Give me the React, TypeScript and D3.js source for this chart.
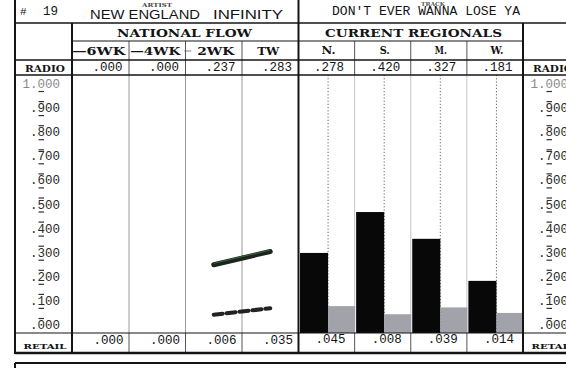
import React from "react";
import * as d3 from "d3";

const W = 566;
const H = 368;

// ---- data ----
const chartRank = "19";
const artistName = "NEW ENGLAND";
const labelName = "INFINITY";
const trackTitle = "DON'T EVER WANNA LOSE YA";

const nationalWeeks = ["—6WK", "—4WK", "2WK", "TW"];
const nationalRadio = [0.0, 0.0, 0.237, 0.283];
const nationalRetail = [0.0, 0.0, 0.006, 0.035];

const regions = ["N.", "S.", "M.", "W."];
const regionRadio = [0.278, 0.42, 0.327, 0.181];
const regionRetail = [0.045, 0.008, 0.039, 0.014];

const yTicks = [1.0, 0.9, 0.8, 0.7, 0.6, 0.5, 0.4, 0.3, 0.2, 0.1, 0.0];

// ---- layout ----
const LEFT = 15;
const LABEL_R = 72;
const DIV = 298.5;
const RDIV = 523;
const SHIFT = 508;
const Y_TITLE = 23;
const Y_GROUP = 41;
const Y_HEAD = 60;
const Y_RADIO = 75;
const Y_BASE = 333;
const Y_BOTTOM = 353;

const MONO = "'Liberation Mono', 'DejaVu Sans Mono', monospace";
const SERIF = "'DejaVu Serif', serif";
const SANS = "'Liberation Sans', Arial, sans-serif";
const INK = "#141414";
const GRAYBAR = "#a2a2aa";

const f3 = d3.format(".3f");
const fmt = (v: number) => (v >= 1 ? f3(v) : f3(v).replace(/^0/, ""));

export default function App() {
  const xNat = d3.scaleBand<string>().domain(nationalWeeks).range([72.5, DIV]);
  const xReg = d3.scaleBand<string>().domain(regions).range([DIV, RDIV]);
  const yBar = d3.scaleLinear().domain([0, 1]).range([Y_BASE, 45]);
  const yRetail = d3.scaleLinear().domain([0, 0.05]).range([316, 305]);
  const yTick = d3.scaleLinear().domain([0, 1]).range([329, 88]);

  const nbw = xNat.bandwidth();
  const rbw = xReg.bandwidth();

  const natRadioPts = nationalWeeks
    .map((w, i) => ({ w, v: nationalRadio[i] }))
    .filter((d) => d.v > 0);
  const natRetailPts = nationalWeeks
    .map((w, i) => ({ w, v: nationalRetail[i] }))
    .filter((d) => d.v > 0);

  const radioLine = d3
    .line<{ w: string; v: number }>()
    .x((d) => (xNat(d.w) as number) + nbw / 2)
    .y((d) => yBar(d.v));
  const retailLine = d3
    .line<{ w: string; v: number }>()
    .x((d) => (xNat(d.w) as number) + nbw / 2)
    .y((d) => yRetail(d.v));

  const tickLabels = (rightX: number, key: string) =>
    yTicks.map((t, i) => {
      const label = fmt(t);
      const cw = 7.5;
      const digitX = rightX - 3 * cw;
      const y = yTick(t);
      return (
        <g key={key + i}>
          <text
            x={rightX}
            y={y}
            textAnchor="end"
            fontFamily={MONO}
            fontSize={12.5}
            fill={t === 1 ? "#8a8a8a" : "#2a2a2a"}
          >
            {label}
          </text>
          {t < 1 && (
            <line x1={digitX + 1} x2={digitX + 6.5} y1={y - 10.5} y2={y - 10.5} stroke="#333" strokeWidth={1.2} />
          )}
          {t > 0 && (
            <line x1={digitX + 1} x2={digitX + 6.5} y1={y + 3.5} y2={y + 3.5} stroke="#333" strokeWidth={1.2} />
          )}
        </g>
      );
    });

  const rowLabel = (x: number, key: string) => (
    <g key={key}>
      <text x={x + 10} y={72} fontFamily={SERIF} fontWeight="bold" fontSize={8.5} textLength={40} lengthAdjust="spacingAndGlyphs" fill={INK}>
        RADIO
      </text>
      <text x={x + 8.5} y={349} fontFamily={SERIF} fontWeight="bold" fontSize={8} textLength={43} lengthAdjust="spacingAndGlyphs" fill={INK}>
        RETAIL
      </text>
    </g>
  );

  const headWidths: Record<string, number> = { "—6WK": 53, "—4WK": 50, "2WK": 37, TW: 22 };
  const regWidths: Record<string, number> = { "N.": 14, "S.": 10, "M.": 12, "W.": 13 };

  return (
    <svg
      width={W}
      height={H}
      viewBox={`0 0 ${W} ${H}`}
      style={{ position: "absolute", left: 0, top: 0, display: "block", background: "#fff" }}
    >
      <rect x={0} y={0} width={W} height={H} fill="#fff" />

      {/* title row */}
      <text x={20} y={15} fontFamily={MONO} fontSize={11} fill={INK}>#</text>
      <text x={43} y={15} fontFamily={MONO} fontSize={12.5} fill={INK}>{chartRank}</text>
      <text x={142} y={7} fontFamily={SERIF} fontWeight="bold" fontSize={5.5} textLength={30} lengthAdjust="spacingAndGlyphs" fill="#444">ARTIST</text>
      <text x={90} y={18.5} fontFamily={SANS} fontSize={12.5} textLength={110} lengthAdjust="spacingAndGlyphs" fill={INK}>{artistName}</text>
      <text x={213} y={18.5} fontFamily={SANS} fontSize={12.5} textLength={70} lengthAdjust="spacingAndGlyphs" fill={INK}>{labelName}</text>
      <text x={332} y={14.5} fontFamily={MONO} fontSize={12.5} textLength={188} lengthAdjust="spacingAndGlyphs" fill={INK}>{trackTitle}</text>
      <text x={421} y={6} fontFamily={SERIF} fontWeight="bold" fontSize={5.5} textLength={24} lengthAdjust="spacingAndGlyphs" fill="#555">TRACK</text>

      {/* group headers */}
      <text x={117} y={37} fontFamily={SERIF} fontWeight="bold" fontSize={10.5} textLength={135} lengthAdjust="spacingAndGlyphs" fill={INK}>NATIONAL FLOW</text>
      <text x={325} y={37} fontFamily={SERIF} fontWeight="bold" fontSize={10.5} textLength={177} lengthAdjust="spacingAndGlyphs" fill={INK}>CURRENT REGIONALS</text>

      {/* column headers */}
      {nationalWeeks.map((w) => {
        const cx = (xNat(w) as number) + nbw / 2 - 2;
        const tw = headWidths[w];
        return (
          <g key={"h" + w}>
            {w === "2WK" && (
              <line x1={cx - tw / 2 - 9} x2={cx - tw / 2 - 2} y1={51} y2={51} stroke="#aaa" strokeWidth={1.5} />
            )}
            <text x={cx + (w === "2WK" ? 4 : 0)} y={55} textAnchor="middle" fontFamily={SERIF} fontWeight="bold" fontSize={10.5} textLength={tw} lengthAdjust="spacingAndGlyphs" fill={INK}>
              {w}
            </text>
          </g>
        );
      })}
      {regions.map((r) => (
        <text key={"rh" + r} x={(xReg(r) as number) + rbw / 2 + 2} y={54} textAnchor="middle" fontFamily={SERIF} fontWeight="bold" fontSize={10.5} textLength={regWidths[r]} lengthAdjust="spacingAndGlyphs" fill={INK}>
          {r}
        </text>
      ))}

      {/* radio row values */}
      {nationalWeeks.map((w, i) => (
        <text key={"nr" + w} x={(xNat(w) as number) + nbw - 6.5} y={71} textAnchor="end" fontFamily={MONO} fontSize={12.5} fill={INK}>
          {fmt(nationalRadio[i])}
        </text>
      ))}
      {regions.map((r, i) => (
        <text key={"rr" + r} x={(xReg(r) as number) + rbw - 10.5} y={71} textAnchor="end" fontFamily={MONO} fontSize={12.5} fill={INK}>
          {fmt(regionRadio[i])}
        </text>
      ))}

      {/* retail row values */}
      {nationalWeeks.map((w, i) => (
        <text key={"nt" + w} x={(xNat(w) as number) + nbw - 5.5} y={344} textAnchor="end" fontFamily={MONO} fontSize={12.5} fill={INK}>
          {fmt(nationalRetail[i])}
        </text>
      ))}
      {regions.map((r, i) => (
        <text key={"rt" + r} x={(xReg(r) as number) + rbw - 9} y={343} textAnchor="end" fontFamily={MONO} fontSize={12.5} fill={INK}>
          {fmt(regionRetail[i])}
        </text>
      ))}

      {/* row labels, left panel and next panel */}
      {rowLabel(LEFT, "rl0")}
      {rowLabel(LEFT + SHIFT, "rl1")}

      {/* y tick labels */}
      {tickLabels(60, "tl")}
      {tickLabels(60 + SHIFT, "tr")}

      {/* column dividers in chart area */}
      {nationalWeeks.slice(1).map((w) => {
        const x = xNat(w) as number;
        return (
          <g key={"nd" + w}>
            <line x1={x} x2={x} y1={Y_GROUP} y2={Y_RADIO} stroke="#555" strokeWidth={1} />
            <line x1={x} x2={x} y1={Y_RADIO} y2={Y_BASE} stroke="#9a9a9a" strokeWidth={1} />
            <line x1={x} x2={x} y1={Y_BASE} y2={Y_BOTTOM} stroke="#555" strokeWidth={1} />
          </g>
        );
      })}
      {regions.slice(1).map((r) => {
        const x = xReg(r) as number;
        return (
          <g key={"rd" + r}>
            <line x1={x} x2={x} y1={Y_GROUP} y2={Y_RADIO} stroke="#555" strokeWidth={1} />
            <line x1={x} x2={x} y1={Y_RADIO} y2={Y_BASE} stroke="#c4c4c4" strokeWidth={1} />
            <line x1={x} x2={x} y1={Y_BASE} y2={Y_BOTTOM} stroke="#555" strokeWidth={1} />
          </g>
        );
      })}

      {/* dotted guides in regionals */}
      {regions.map((r) => {
        const x = (xReg(r) as number) + rbw / 2 + 1.5;
        return <line key={"dg" + r} x1={x} x2={x} y1={Y_RADIO} y2={Y_BASE} stroke="#666" strokeWidth={1} strokeDasharray="1.2 2" />;
      })}

      {/* regional bars */}
      {regions.map((r, i) => {
        const x0 = xReg(r) as number;
        const yr = yBar(regionRadio[i]);
        const yt = yRetail(regionRetail[i]);
        return (
          <g key={"b" + r}>
            <rect x={x0 + 1.5} y={yr} width={rbw / 2} height={Y_BASE - yr} fill="#080808" />
            <rect x={x0 + rbw / 2 + 1.5} y={yt} width={rbw / 2 - 1} height={Y_BASE - yt} fill={GRAYBAR} />
          </g>
        );
      })}

      {/* national flow lines */}
      <path d={radioLine(natRadioPts) || ""} fill="none" stroke="#1c241c" strokeWidth={5} strokeLinecap="round" />
      <path d={radioLine(natRadioPts) || ""} fill="none" stroke="#3f8f55" strokeWidth={1.2} strokeOpacity={0.6} transform="translate(0,-1.5)" />
      <path d={retailLine(natRetailPts) || ""} fill="none" stroke="#222" strokeWidth={4} strokeDasharray="9 4" strokeLinecap="round" />

      {/* frame */}
      <line x1={LEFT} x2={LEFT} y1={0} y2={Y_BOTTOM + 1} stroke={INK} strokeWidth={2} />
      <line x1={LABEL_R} x2={LABEL_R} y1={Y_TITLE} y2={Y_BOTTOM + 1} stroke={INK} strokeWidth={2} />
      <line x1={DIV} x2={DIV} y1={0} y2={Y_BOTTOM + 1} stroke={INK} strokeWidth={2} />
      <line x1={RDIV} x2={RDIV} y1={Y_TITLE} y2={Y_BOTTOM + 1} stroke={INK} strokeWidth={2} />
      <line x1={LEFT} x2={W} y1={Y_TITLE} y2={Y_TITLE} stroke={INK} strokeWidth={1.3} />
      <line x1={LABEL_R} x2={RDIV} y1={Y_GROUP} y2={Y_GROUP} stroke={INK} strokeWidth={1} />
      <line x1={LEFT} x2={W} y1={Y_HEAD} y2={Y_HEAD} stroke={INK} strokeWidth={1.3} />
      <line x1={LEFT} x2={W} y1={Y_RADIO} y2={Y_RADIO} stroke={INK} strokeWidth={1.3} />
      <line x1={LEFT} x2={W} y1={Y_BASE} y2={Y_BASE} stroke={INK} strokeWidth={1.2} />
      <line x1={LEFT} x2={W} y1={Y_BOTTOM} y2={Y_BOTTOM} stroke={INK} strokeWidth={2.5} />

      {/* next box beginning */}
      <line x1={LEFT} x2={W} y1={363} y2={363} stroke={INK} strokeWidth={2} />
      <line x1={LEFT} x2={LEFT} y1={363} y2={H} stroke={INK} strokeWidth={2} />
    </svg>
  );
}
